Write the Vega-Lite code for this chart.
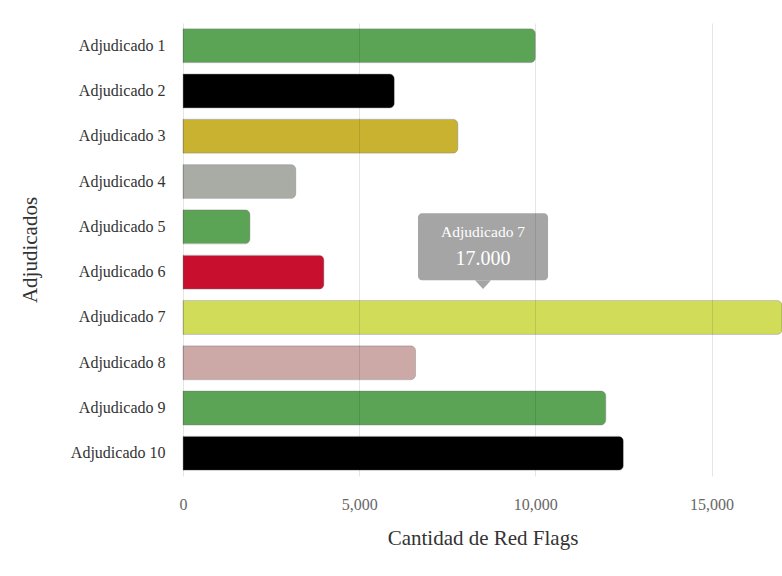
{
  "$schema": "https://vega.github.io/schema/vega-lite/v6.json",
  "width": 599,
  "height": 453,
  "autosize": {"type": "none"},
  "padding": {"left": 183, "top": 23, "right": 0, "bottom": 100},
  "background": "white",
  "config": {"font": "Liberation Serif", "view": {"stroke": null}},
  "datasets": {
    "bars": [
      {"cat": "Adjudicado 1", "value": 10000},
      {"cat": "Adjudicado 2", "value": 6000},
      {"cat": "Adjudicado 3", "value": 7800},
      {"cat": "Adjudicado 4", "value": 3200},
      {"cat": "Adjudicado 5", "value": 1900},
      {"cat": "Adjudicado 6", "value": 4000},
      {"cat": "Adjudicado 7", "value": 17000},
      {"cat": "Adjudicado 8", "value": 6600},
      {"cat": "Adjudicado 9", "value": 12000},
      {"cat": "Adjudicado 10", "value": 12500}
    ],
    "tip": [
      {"cat": "Adjudicado 6", "x0": 6670, "x1": 10360, "xm": 8515, "label": "Adjudicado 7", "val": "17.000"}
    ]
  },
  "layer": [
    {
      "data": {"name": "bars"},
      "mark": {"type": "bar", "cornerRadiusEnd": 5, "stroke": "#777", "strokeOpacity": 0.35, "strokeWidth": 1},
      "encoding": {
        "y": {
          "field": "cat", "type": "nominal", "sort": null,
          "scale": {"paddingInner": 0.25, "paddingOuter": 0.125},
          "axis": {
            "title": "Adjudicados", "titleFontSize": 21, "titleFontWeight": "normal", "titleColor": "#333",
            "titleX": -153, "titleY": 226.5, "titleAlign": "center", "titleBaseline": "middle", "titleAngle": -90,
            "labelFontSize": 16, "labelColor": "#333", "labelPadding": 18, "ticks": false, "tickSize": 0, "domain": false, "grid": false
          }
        },
        "x": {
          "field": "value", "type": "quantitative",
          "scale": {"domain": [0, 17000], "nice": false},
          "axis": {
            "title": "Cantidad de Red Flags", "titleFontSize": 21, "titleFontWeight": "normal", "titleColor": "#333",
            "titleY": 62, "titleBaseline": "middle",
            "values": [0, 5000, 10000, 15000], "format": ",d", "labelFlush": false,
            "labelFontSize": 16, "labelColor": "#666", "labelPadding": 20, "ticks": false, "tickSize": 0, "domain": false,
            "grid": true, "gridColor": "#000000", "gridOpacity": 0.1, "gridWidth": 1, "zindex": 1
          }
        },
        "color": {
          "field": "cat", "type": "nominal", "legend": null,
          "scale": {
            "domain": ["Adjudicado 1", "Adjudicado 2", "Adjudicado 3", "Adjudicado 4", "Adjudicado 5", "Adjudicado 6", "Adjudicado 7", "Adjudicado 8", "Adjudicado 9", "Adjudicado 10"],
            "range": ["#5ba455", "#000000", "#c8b22f", "#a8aca5", "#5ba455", "#c8102e", "#d1dc59", "#cca8a7", "#5ba455", "#000000"]
          }
        }
      }
    },
    {
      "data": {"name": "tip"},
      "mark": {"type": "bar", "height": 67, "yOffset": -25.5, "color": "#a5a5a5", "cornerRadius": 4},
      "encoding": {
        "y": {"field": "cat", "type": "nominal", "sort": null},
        "x": {"field": "x0", "type": "quantitative"},
        "x2": {"field": "x1"}
      }
    },
    {
      "data": {"name": "tip"},
      "mark": {"type": "point", "shape": "M-1,0L1,0L0,1.1Z", "size": 256, "filled": true, "opacity": 1, "color": "#a5a5a5", "yOffset": 8},
      "encoding": {
        "y": {"field": "cat", "type": "nominal", "sort": null},
        "x": {"field": "xm", "type": "quantitative"}
      }
    },
    {
      "data": {"name": "tip"},
      "mark": {"type": "text", "color": "white", "fontSize": 15.5, "dy": -40, "baseline": "middle", "align": "center"},
      "encoding": {
        "y": {"field": "cat", "type": "nominal", "sort": null},
        "x": {"field": "xm", "type": "quantitative"},
        "text": {"field": "label"}
      }
    },
    {
      "data": {"name": "tip"},
      "mark": {"type": "text", "color": "white", "fontSize": 20, "dy": -13, "baseline": "middle", "align": "center"},
      "encoding": {
        "y": {"field": "cat", "type": "nominal", "sort": null},
        "x": {"field": "xm", "type": "quantitative"},
        "text": {"field": "val"}
      }
    }
  ]
}
